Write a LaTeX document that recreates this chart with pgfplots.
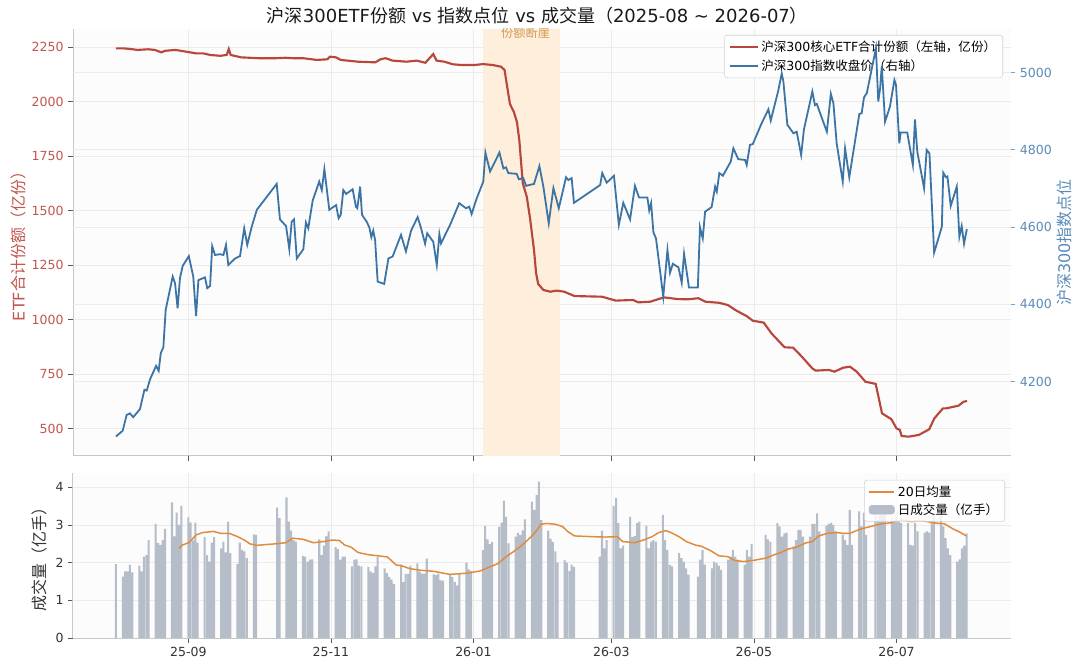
\documentclass[border=0pt]{standalone}
\usepackage{pgfplots}
\pgfplotsset{compat=1.18}
\usepackage{pgfplotstable}
\usepackage{fontspec}
\setmainfont{DejaVu Sans}
\newfontfamily\cjk{Noto Sans CJK SC}

\definecolor{etfred}{HTML}{B8463B}
\definecolor{leftlab}{HTML}{C0564E}
\definecolor{idxblue}{HTML}{3B74A5}
\definecolor{rightlab}{HTML}{5A8BB7}
\definecolor{maorange}{HTML}{E08A3C}
\definecolor{barfill}{HTML}{B5BDC9}
\definecolor{shade}{HTML}{FDEFDB}
\definecolor{shadetext}{HTML}{D49A55}
\definecolor{gridc}{HTML}{EBEBEB}
\definecolor{spinec}{HTML}{C8C8C8}
\definecolor{axbg}{HTML}{FCFCFC}
\definecolor{labdark}{HTML}{333333}

% ETF total shares (left axis, 100M shares); x = days since 2025-08-01
\pgfplotstableread{
d v
0 2245
3.5 2245
6.4 2242
9.3 2238
13.8 2241
16.7 2238
19.4 2227
21.1 2234
25.5 2238
30.0 2230
34.4 2222
37.4 2222
40.3 2215
44.7 2211
47.4 2215
48.3 2242
49.1 2215
53.5 2204
60.9 2200
68.3 2200
72.7 2202
75.7 2200
80.1 2200
86.0 2192
90.4 2195
91.6 2207
94.1 2204
96.3 2192
103.6 2184
111.0 2181
113.2 2195
115.4 2200
118.4 2189
124.3 2184
128.7 2189
132.4 2179
135.8 2219
137.2 2189
140.5 2184
144.2 2172
147.8 2169
153.7 2169
157.0 2173
161.1 2169
164.8 2161
166.3 2146
167.1 2091
168.6 1990
170.3 1953
171.6 1907
172.6 1825
174.1 1626
175.8 1565
177.2 1466
178.9 1320
179.8 1213
180.7 1164
182.9 1137
185.8 1129
188.6 1134
191.8 1129
196.2 1109
208.0 1106
213.9 1088
221.3 1091
223.5 1080
228.6 1083
234.5 1103
240.4 1095
244.8 1094
249.3 1099
252.2 1083
258.1 1078
261.8 1068
265.5 1042
269.9 1017
272.5 996
277.2 987
280.5 938
286.1 874
289.8 872
293.5 831
297.9 778
299.4 767
305.2 770
307.4 762
311.1 780
314.1 785
317.0 762
320.7 716
325.1 706
327.8 571
331.8 544
334.0 502
335.4 495
336.2 467
339.2 464
343.6 472
348.0 498
350.2 548
353.9 594
355.3 594
360.5 606
362.7 624
364.2 628
}\etftable

% CSI 300 index close (right axis)
\pgfplotstableread{
d v
0.0 4058
2.9 4073
4.6 4114
6.0 4118
7.4 4108
10.3 4129
12.2 4179
13.2 4177
14.6 4206
17.2 4241
18.3 4228
19.2 4274
20.3 4289
21.3 4386
24.3 4472
25.3 4455
26.4 4390
27.4 4468
28.6 4500
31.2 4525
33.1 4472
34.3 4370
35.3 4463
38.1 4470
39.1 4442
40.3 4448
41.2 4551
42.4 4528
44.5 4530
46.0 4528
46.4 4537
47.1 4554
48.1 4502
51.0 4519
53.1 4525
54.9 4597
56.2 4554
58.1 4601
60.3 4645
68.8 4712
70.2 4620
72.8 4603
74.2 4543
75.2 4614
76.2 4620
77.4 4519
80.2 4543
81.3 4612
82.3 4597
84.2 4669
87.0 4718
88.1 4696
89.2 4750
91.3 4645
94.2 4657
95.3 4623
96.2 4632
97.3 4696
98.5 4686
101.3 4698
102.7 4653
103.3 4649
104.5 4705
105.3 4632
107.3 4614
108.4 4600
109.3 4574
110.1 4591
110.9 4567
112.0 4459
114.8 4453
116.6 4519
118.4 4524
122.0 4580
124.1 4537
126.3 4591
129.1 4626
130.4 4601
132.3 4557
133.2 4584
135.8 4562
137.3 4502
138.4 4582
139.1 4558
143.0 4606
146.9 4662
149.8 4649
151.2 4653
152.2 4634
154.4 4675
157.2 4718
158.1 4793
160.1 4744
164.1 4793
165.8 4752
166.9 4755
167.9 4740
171.5 4738
172.4 4724
174.3 4727
175.5 4707
178.9 4712
181.2 4758
182.9 4705
185.2 4610
187.2 4701
189.5 4649
192.6 4729
193.6 4722
195.0 4727
196.0 4663
207.2 4709
208.1 4740
210.0 4715
213.1 4733
215.2 4606
217.1 4663
220.0 4620
222.1 4707
223.8 4677
227.4 4677
228.2 4643
229.0 4662
230.0 4586
231.1 4571
234.2 4420
236.0 4541
237.1 4482
238.3 4505
240.7 4496
242.1 4456
243.1 4531
245.2 4444
249.0 4444
249.9 4600
251.1 4571
252.1 4640
254.9 4652
256.4 4705
257.1 4692
258.2 4740
259.7 4733
263.1 4770
264.2 4804
266.3 4776
269.2 4774
269.9 4761
271.3 4813
272.5 4815
276.3 4869
279.2 4905
280.2 4876
283.4 4953
284.9 4998
285.6 4977
287.3 4865
289.9 4843
291.3 4847
293.2 4787
294.4 4853
298.0 4951
299.1 4916
299.9 4919
304.2 4847
305.9 4945
307.0 4921
308.4 4817
311.0 4718
312.0 4804
313.8 4729
318.1 4893
319.1 4895
320.1 4936
321.3 4947
325.2 5063
326.2 4925
327.0 4960
327.7 5017
329.1 4873
331.2 4912
333.1 4981
333.8 4968
335.2 4817
335.8 4845
338.6 4845
341.0 4761
341.9 4879
342.9 4795
345.8 4701
346.9 4800
348.1 4791
350.1 4534
353.4 4601
354.0 4741
355.2 4729
355.8 4731
357.2 4655
359.8 4705
360.9 4575
361.9 4603
362.9 4557
364.1 4595
}\idxtable

% daily volume (100M lots)
\pgfplotstableread{
d v
0 1.96
3 1.63
4 1.77
5 1.77
6 1.95
7 1.74
10 1.92
11 1.77
12 2.16
13 2.20
14 2.60
17 3.03
18 2.52
19 2.47
20 2.60
21 2.90
24 3.60
25 2.70
26 3.33
27 3.00
28 3.51
31 3.20
32 3.06
33 2.59
34 3.06
35 2.53
38 2.68
39 2.20
40 2.03
41 2.53
42 2.68
45 2.38
46 2.56
47 2.27
48 3.09
49 2.25
52 1.97
53 2.53
54 2.34
55 2.30
56 2.12
59 2.75
60 2.74
69 3.46
70 3.18
73 3.73
74 3.09
75 2.85
76 2.60
77 2.56
80 2.18
81 2.16
82 2.03
83 2.08
84 2.09
87 2.62
88 2.20
89 2.45
90 2.70
91 2.83
94 2.41
95 2.36
96 2.08
97 2.16
98 2.16
101 1.90
102 2.08
103 2.09
104 1.92
105 1.90
108 1.88
109 1.77
110 1.72
111 1.90
112 2.16
115 1.85
116 1.72
117 1.62
118 1.55
119 1.44
122 1.95
123 1.48
124 1.70
125 1.70
126 1.92
129 1.98
130 1.76
131 1.71
132 1.71
133 2.11
136 1.69
137 1.67
138 1.71
139 1.53
140 1.52
143 1.67
144 1.62
145 1.49
146 1.40
147 1.71
150 2.00
151 1.82
152 1.78
157 2.33
158 2.97
159 2.62
160 2.49
161 2.55
164 2.95
165 3.06
166 3.65
167 3.22
168 2.51
171 2.69
172 2.79
173 2.73
174 2.86
175 3.15
178 3.62
179 3.40
180 3.80
181 4.15
182 3.13
185 2.85
186 2.64
187 2.55
188 2.30
189 2.00
192 2.07
193 2.00
194 1.78
195 1.95
196 1.89
207 2.16
208 2.85
209 2.38
210 2.60
213 3.51
214 3.71
215 3.05
216 2.38
217 2.45
220 3.22
221 2.68
222 2.71
223 3.05
224 3.09
227 2.98
228 2.38
229 2.56
230 2.60
231 2.56
234 3.27
235 2.60
236 2.34
237 1.94
238 1.90
241 2.25
242 2.12
243 2.03
244 1.85
245 1.68
249 1.63
250 2.08
251 2.34
252 1.95
255 1.85
256 2.03
257 1.99
258 1.92
259 1.81
262 2.08
263 2.16
264 2.34
265 2.16
266 2.08
269 1.94
270 2.34
271 2.16
272 2.50
278 2.74
279 2.62
280 2.56
283 3.05
284 2.96
285 2.69
286 2.78
287 2.80
290 2.43
291 2.60
292 2.87
293 2.87
294 2.69
297 2.69
298 3.03
299 3.03
300 3.31
301 2.83
304 2.98
305 3.03
306 3.05
307 3.00
308 2.83
311 2.74
312 2.60
313 2.47
314 3.40
315 2.47
318 3.36
319 2.96
320 3.33
321 2.74
325 3.40
326 3.13
327 3.31
328 3.36
329 3.31
332 3.18
333 3.09
334 3.36
335 3.09
336 3.05
339 3.05
340 2.47
341 2.45
342 3.05
343 2.83
346 2.80
347 2.83
348 2.80
349 3.09
350 3.27
353 3.29
354 2.96
355 2.65
356 2.38
357 2.20
360 2.03
361 2.09
362 2.38
363 2.45
364 2.78
}\voltable

% 20-day average volume
\pgfplotstableread{
d v
27.0 2.38
28.5 2.47
31.2 2.53
34.4 2.74
37.3 2.80
41.8 2.83
44.7 2.78
48.4 2.78
52.1 2.69
55.0 2.60
57.3 2.50
60.2 2.46
68.3 2.50
72.7 2.53
75.7 2.65
80.1 2.62
84.5 2.53
88.9 2.56
92.6 2.60
95.6 2.59
97.8 2.47
100.7 2.41
103.6 2.27
108.1 2.21
112.5 2.18
116.2 2.15
119.9 1.94
122.1 1.92
125.8 1.84
130.2 1.80
136.1 1.77
140.1 1.72
143.0 1.69
150.1 1.72
155.8 1.78
160.1 1.89
163.6 1.98
167.2 2.17
170.1 2.29
172.9 2.42
175.8 2.58
178.4 2.73
180.1 2.86
181.8 3.02
184.3 3.04
187.9 3.02
191.1 2.96
193.2 2.83
196.2 2.71
203.6 2.69
209.5 2.68
214.6 2.69
216.8 2.56
222.0 2.53
225.7 2.60
229.4 2.69
232.3 2.80
235.3 2.85
237.5 2.80
241.2 2.68
244.1 2.56
247.8 2.47
250.7 2.43
254.4 2.32
258.1 2.18
261.8 2.16
264.7 2.06
268.4 2.03
272.8 2.06
278.0 2.12
281.7 2.21
284.6 2.27
287.6 2.36
291.2 2.41
295.0 2.52
297.9 2.56
300.8 2.71
304.5 2.78
308.2 2.80
311.1 2.78
314.1 2.78
318.5 2.89
322.9 2.96
327.4 3.03
331.8 3.06
334.0 3.12
336.9 3.13
340.6 3.09
343.6 3.12
347.3 3.09
350.9 3.05
354.6 3.03
358.3 2.89
360.5 2.83
363.9 2.71
}\matable

\pgfplotsset{
  base/.style={
    scale only axis, width=703.5pt,
    xmin=-18.36, xmax=383.0,
    xtick={31,92,153,212,273,334},
    grid=major,
    major grid style={draw=gridc, line width=0.6pt},
    tick align=outside,
    major tick length=3.6pt,
    tick style={draw=black!65, line width=0.6pt},
    axis x line*=bottom, axis y line*=left,
    axis line style={draw=spinec, line width=0.75pt},
    ticklabel style={font=\fontsize{9.4}{11}\selectfont},
    xticklabel style={text=labdark},
    /pgf/number format/1000 sep={},
    /pgf/number format/assume math mode=true,
    scaled ticks=false,
  }
}

\begin{document}
\begin{tikzpicture}
\useasboundingbox (0pt,0pt) rectangle (810pt,503.25pt);

% ---------- top panel, left axis ----------
\begin{axis}[base,
  at={(54.75pt,161.25pt)}, anchor=south west, height=320.25pt,
  axis background/.style={fill=axbg},
  ymin=375.3, ymax=2334,
  ytick={500,750,1000,1250,1500,1750,2000,2250},
  xticklabels={},
  yticklabel style={text=leftlab},
  extra y ticks={716.2,1070.6,1425.0,1779.4,2133.8},
  extra y tick labels={},
  extra y tick style={major tick length=0pt, grid=major},
  ylabel={ETF{\cjk 合计份额（亿份）}},
  ylabel style={at={(axis description cs:-0.0581,0.5)}, anchor=center,
    font=\fontsize{12}{14}\selectfont, text=leftlab},
  title={{\cjk 沪深}300ETF{\cjk 份额} vs {\cjk 指数点位} vs {\cjk 成交量（}2025-08 \textasciitilde{} 2026-07{\cjk ）}},
  title style={at={(0.5,1)}, anchor=base, yshift=-1.1pt, xshift=-3.4pt,
    font=\fontsize{13.5}{16}\selectfont, text=black!90},
  legend style={at={(1,1)}, anchor=north east, xshift=-6pt, yshift=-4.5pt,
    draw=black!18, fill=white, rounded corners=2pt,
    font=\fontsize{9.4}{11}\selectfont, row sep=0pt,
    nodes={inner ysep=2.2pt}},
  legend cell align=left,
  legend image code/.code={\draw[#1] (0pt,0pt) -- (21pt,0pt);},
]
\path[fill=shade] ({axis cs:157,1000}|-{rel axis cs:0,0}) rectangle ({axis cs:190,1000}|-{rel axis cs:0,1});
\node[font=\fontsize{9.2}{11}\selectfont\cjk, text=shadetext, anchor=center]
  at ({axis cs:175.3,1000}|-{rel axis cs:0,1}) [yshift=-3.2pt] {份额断崖};
\addplot[etfred, line width=1.6pt] table[x=d, y=v] {\etftable};
\addlegendentry{{\cjk 沪深}300{\cjk 核心}ETF{\cjk 合计份额（左轴，亿份）}}
\addlegendimage{idxblue, line width=1.35pt}
\addlegendentry{{\cjk 沪深}300{\cjk 指数收盘价（右轴）}}
\end{axis}

% ---------- top panel, right axis ----------
\begin{axis}[
  scale only axis, width=703.5pt, height=320.25pt,
  at={(54.75pt,161.25pt)}, anchor=south west,
  xmin=-18.36, xmax=383.0,
  ymin=4007.6, ymax=5113,
  axis x line=none, axis y line*=right,
  y axis line style={draw=none},
  ytick={4200,4400,4600,4800,5000},
  tick align=outside, major tick length=3.2pt,
  ytick style={draw=rightlab!80, line width=0.6pt},
  yticklabel style={text=rightlab, font=\fontsize{9.4}{11}\selectfont},
  /pgf/number format/1000 sep={},
  /pgf/number format/assume math mode=true,
  scaled ticks=false,
  ylabel={{\cjk 沪深}300{\cjk 指数点位}},
  ylabel style={at={(axis description cs:1.0565,0.5)}, anchor=center,
    font=\fontsize{12}{14}\selectfont, text=rightlab},
]
\addplot[idxblue, line width=1.35pt] table[x=d, y=v] {\idxtable};
\end{axis}

% ---------- bottom panel: volume ----------
\begin{axis}[base,
  at={(54.75pt,24.75pt)}, anchor=south west, height=123.75pt,
  axis background/.style={fill=axbg},
  ymin=0, ymax=4.38,
  ytick={0,1,2,3,4},
  yticklabel style={text=labdark},
  xticklabels={25-09,25-11,26-01,26-03,26-05,26-07},
  ylabel={{\cjk 成交量（亿手）}},
  ylabel style={at={(axis description cs:-0.0356,0.5)}, anchor=center,
    font=\fontsize{12}{14}\selectfont, text=labdark},
  legend style={at={(1,1)}, anchor=north east, xshift=-4.5pt, yshift=-5.2pt,
    draw=black!18, fill=white, fill opacity=0.8, text opacity=1, draw opacity=1,
    rounded corners=2pt,
    font=\fontsize{9.4}{11}\selectfont, row sep=0pt,
    nodes={inner ysep=2pt}},
  legend cell align=left,
]
\addlegendimage{legend image code/.code={\draw[maorange, line width=1.1pt, opacity=1] (0pt,0pt) -- (19pt,0pt);}}
\addlegendentry{20{\cjk 日均量}}
\addlegendimage{legend image code/.code={\fill[barfill, opacity=1] (0pt,-3.2pt) rectangle (19pt,3.2pt);}}
\addlegendentry{{\cjk 日成交量（亿手）}}
\addplot[ybar, bar width=0.88, fill=barfill, draw=none, forget plot] table[x=d, y=v] {\voltable};
\addplot[maorange, line width=1.1pt, forget plot] table[x=d, y=v] {\matable};
\end{axis}
\end{tikzpicture}
\end{document}
